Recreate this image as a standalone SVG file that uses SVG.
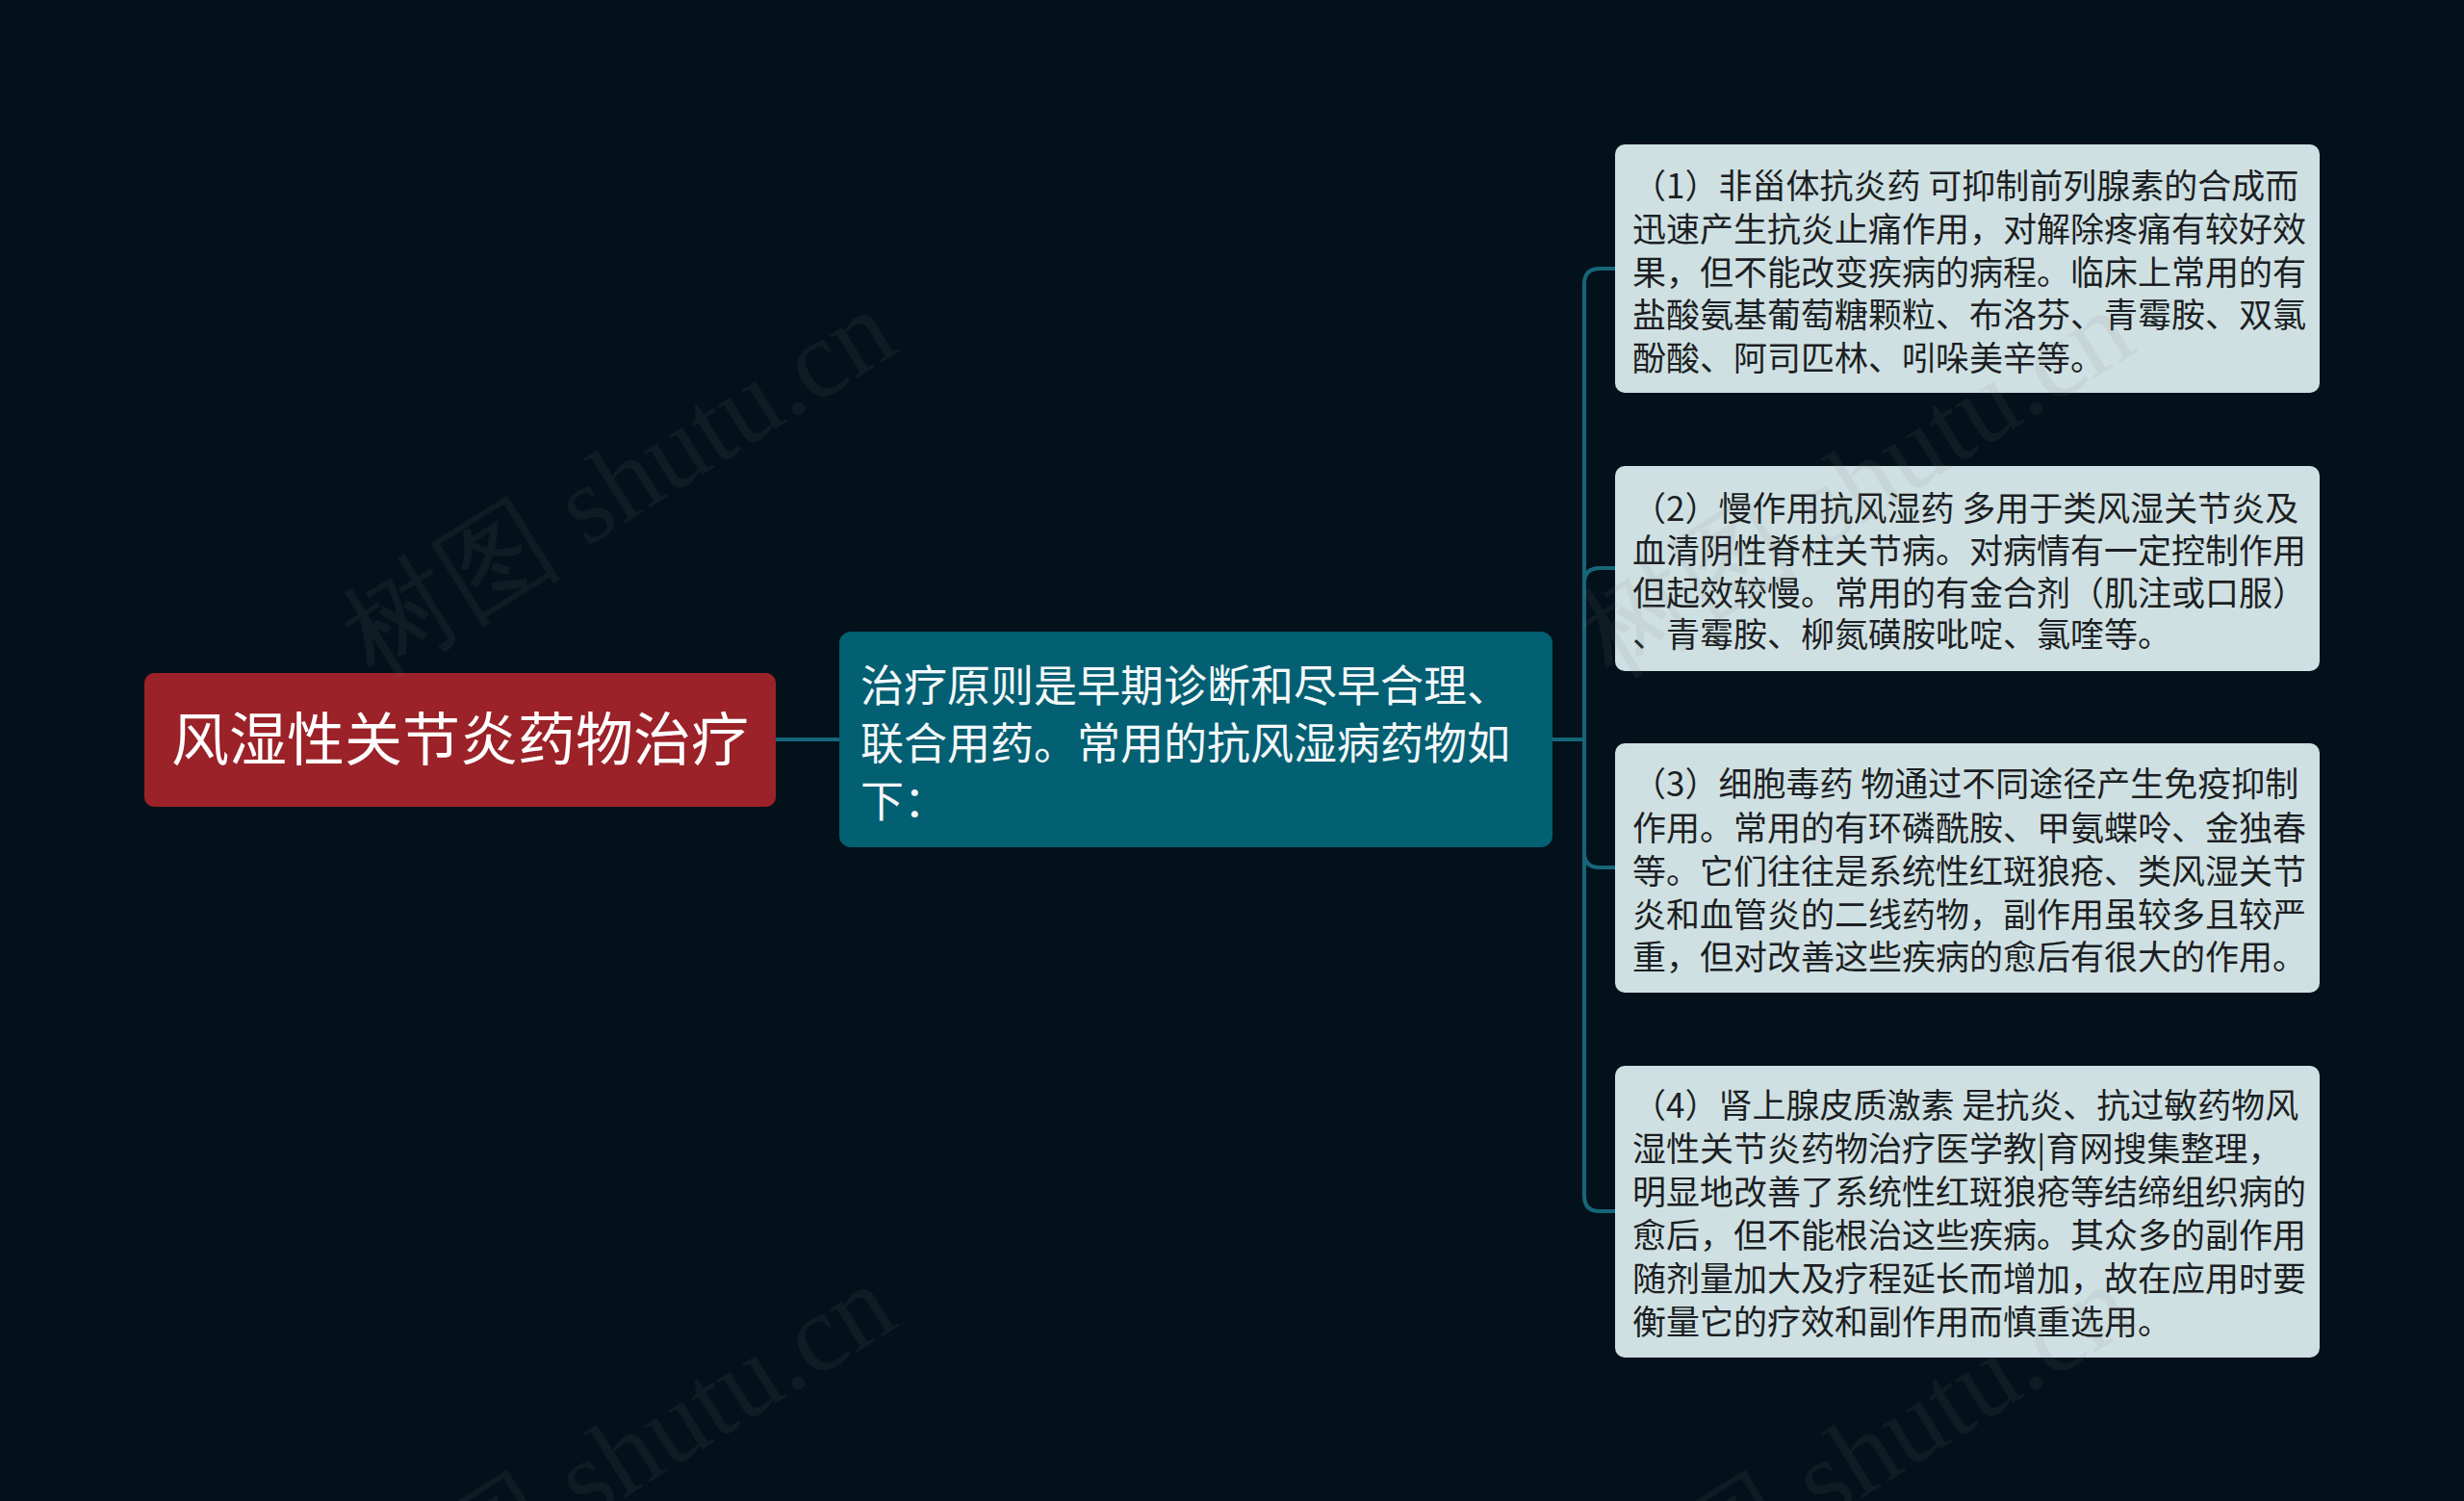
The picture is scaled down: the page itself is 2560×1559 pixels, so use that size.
<svg xmlns="http://www.w3.org/2000/svg" width="2560" height="1559" viewBox="0 0 2560 1559">
<style>
.bg{fill:#03111a}
.root rect{fill:#9b2228}
.mid rect{fill:#035f72}
.leaf rect{fill:#cfe0e3}
.rt{font-family:"Noto Sans CJK SC","Noto Sans",sans-serif;font-size:60px;fill:#ffffff}
.mt{font-family:"Noto Sans CJK SC","Noto Sans",sans-serif;font-size:45px;fill:#f4f8f9}
.lt{font-family:"Noto Sans CJK SC","Noto Sans",sans-serif;font-size:35px;fill:#1c1f22}
.conn path{fill:none;stroke:#16667a;stroke-width:4}
.wm{font-family:"Liberation Serif",serif;font-size:115px;fill:#808080;fill-opacity:0.1}
</style>
<rect class="bg" x="0" y="0" width="2560" height="1559"/>
<g id="connectors" class="conn">
<path d="M806 768 H872"/>
<path d="M1613 768 H1646 V295 Q1646 279 1662 279 H1678"/>
<path d="M1646 606 Q1646 590 1662 590 H1678"/>
<path d="M1646 768 V885 Q1646 901 1662 901 H1678"/>
<path d="M1646 885 V1242 Q1646 1258 1662 1258 H1678"/>
</g>
<g id="root" class="root">
<rect x="150" y="699" width="656" height="139" rx="10"/>
<text class="rt" x="478" y="790" text-anchor="middle">风湿性关节炎药物治疗</text>
</g>
<g id="middle" class="mid">
<rect x="872" y="656" width="741" height="224" rx="12"/>
<text class="mt"><tspan x="894" y="729">治疗原则是早期诊断和尽早合理、</tspan><tspan x="894" y="789">联合用药。常用的抗风湿病药物如</tspan><tspan x="894" y="849">下：</tspan></text>
</g>
<g id="leaf1" class="leaf">
<rect x="1678" y="150" width="732" height="258" rx="10"/>
<text class="lt"><tspan x="1696" y="206">（1）非甾体抗炎药 可抑制前列腺素的合成而</tspan><tspan x="1696" y="251">迅速产生抗炎止痛作用，对解除疼痛有较好效</tspan><tspan x="1696" y="296">果，但不能改变疾病的病程。临床上常用的有</tspan><tspan x="1696" y="340">盐酸氨基葡萄糖颗粒、布洛芬、青霉胺、双氯</tspan><tspan x="1696" y="385">酚酸、阿司匹林、吲哚美辛等。</tspan></text>
</g>
<g id="leaf2" class="leaf">
<rect x="1678" y="484" width="732" height="213" rx="10"/>
<text class="lt"><tspan x="1696" y="541">（2）慢作用抗风湿药 多用于类风湿关节炎及</tspan><tspan x="1696" y="585">血清阴性脊柱关节病。对病情有一定控制作用</tspan><tspan x="1696" y="629">但起效较慢。常用的有金合剂（肌注或口服）</tspan><tspan x="1696" y="672">、青霉胺、柳氮磺胺吡啶、氯喹等。</tspan></text>
</g>
<g id="leaf3" class="leaf">
<rect x="1678" y="772" width="732" height="259" rx="10"/>
<text class="lt"><tspan x="1696" y="827">（3）细胞毒药 物通过不同途径产生免疫抑制</tspan><tspan x="1696" y="873">作用。常用的有环磷酰胺、甲氨蝶呤、金独春</tspan><tspan x="1696" y="918">等。它们往往是系统性红斑狼疮、类风湿关节</tspan><tspan x="1696" y="963">炎和血管炎的二线药物，副作用虽较多且较严</tspan><tspan x="1696" y="1007">重，但对改善这些疾病的愈后有很大的作用。</tspan></text>
</g>
<g id="leaf4" class="leaf">
<rect x="1678" y="1107" width="732" height="303" rx="10"/>
<text class="lt"><tspan x="1696" y="1161">（4）肾上腺皮质激素 是抗炎、抗过敏药物风</tspan><tspan x="1696" y="1206">湿性关节炎药物治疗医学教|育网搜集整理，</tspan><tspan x="1696" y="1251">明显地改善了系统性红斑狼疮等结缔组织病的</tspan><tspan x="1696" y="1296">愈后，但不能根治这些疾病。其众多的副作用</tspan><tspan x="1696" y="1341">随剂量加大及疗程延长而增加，故在应用时要</tspan><tspan x="1696" y="1386">衡量它的疗效和副作用而慎重选用。</tspan></text>
</g>
<g id="watermarks">
<text class="wm" x="645" y="540" text-anchor="middle" transform="rotate(-32 645 506)">树图 shutu.cn</text>
<text class="wm" x="1931" y="540" text-anchor="middle" transform="rotate(-32 1931 506)">树图 shutu.cn</text>
<text class="wm" x="645" y="1552" text-anchor="middle" transform="rotate(-32 645 1518)">树图 shutu.cn</text>
<text class="wm" x="1931" y="1552" text-anchor="middle" transform="rotate(-32 1931 1518)">树图 shutu.cn</text>
</g>
</svg>
